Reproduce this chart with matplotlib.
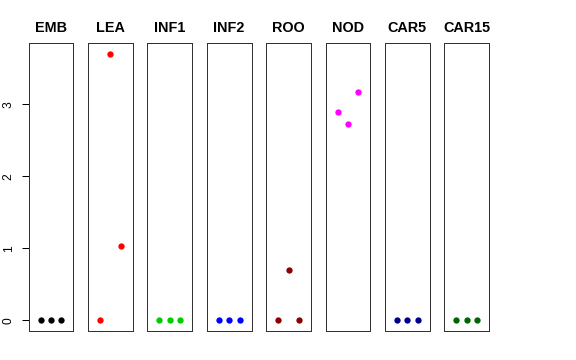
import matplotlib
matplotlib.use("Agg")
from matplotlib import pyplot as plt

# one panel per tissue, three replicates each
tissues = ["EMB", "LEA", "INF1", "INF2", "ROO", "NOD", "CAR5", "CAR15"]
colors = ["black", "red", "#00CD00", "blue", "#8B0000", "magenta", "#00008B", "#006400"]
replicates = [1, 2, 3]
values = [
    [0, 0, 0],
    [0, 3.70, 1.03],
    [0, 0, 0],
    [0, 0, 0],
    [0, 0.70, 0],
    [2.90, 2.73, 3.17],
    [0, 0, 0],
    [0, 0, 0],
]

plt.rcParams["font.family"] = ["Liberation Sans", "DejaVu Sans"]

W, H = 576, 360
fig = plt.figure(figsize=(W / 72, H / 72), dpi=72)

left0, step, pw = 28.7, 59.37, 44.7
top, bottom = 43.3, 331.0
ymax = max(max(v) for v in values)
ylo, yhi = -0.04 * ymax, 1.04 * ymax

for i, (name, col, vals) in enumerate(zip(tissues, colors, values)):
    x0 = left0 + i * step
    ax = fig.add_axes([x0 / W, (H - bottom) / H, pw / W, (bottom - top) / H])
    ax.plot(replicates, vals, "o", color=col, markersize=6.3, markeredgewidth=0)
    ax.set_xlim(-0.16, 4.16)
    ax.set_ylim(ylo, yhi)
    ax.set_xticks([])
    for s in ax.spines.values():
        s.set_color("#333333")
        s.set_linewidth(1)
    ax.set_title(name, fontsize=14.4, fontweight="bold", pad=11)
    if i == 0:
        ax.set_yticks([0, 1, 2, 3])
        ax.set_yticklabels(["0", "1", "2", "3"], rotation=90, va="center", fontsize=12)
        ax.tick_params(axis="y", length=7, width=1, pad=7, colors="black")
    else:
        ax.set_yticks([])

fig.savefig("out.png", dpi=72)
